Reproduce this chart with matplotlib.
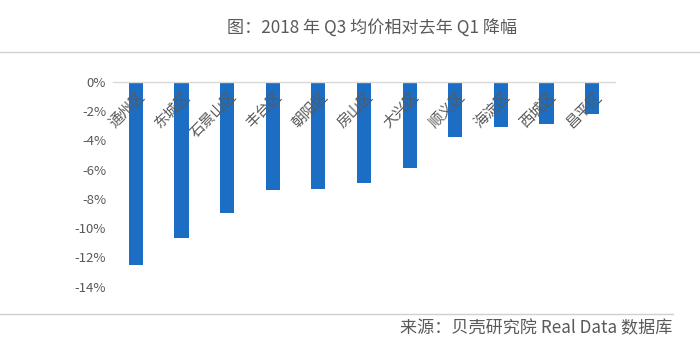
import matplotlib.pyplot as plt
from matplotlib.lines import Line2D

plt.rcParams["font.family"] = ["Noto Sans CJK SC", "DejaVu Sans"]

districts = ["通州区", "东城区", "石景山区", "丰台区", "朝阳区", "房山区",
             "大兴区", "顺义区", "海淀区", "西城区", "昌平区"]
declines = [-12.5, -10.7, -9.0, -7.4, -7.3, -6.9, -5.9, -3.8, -3.1, -2.9, -2.2]
y_ticks = [0, -2, -4, -6, -8, -10, -12, -14]

TEXT = "#595959"
BAR = "#1b6ec4"

fig = plt.figure(figsize=(7, 3.59), dpi=100)
ax = fig.add_axes([0.1614, 0.2014, 0.7171, 0.571])

x = range(len(districts))
ax.bar(x, declines, width=0.31, color=BAR, zorder=2)
ax.set_xlim(-0.5, len(districts) - 0.5)
ax.set_ylim(-14, 0)
ax.set_yticks(y_ticks)
ax.set_yticklabels([f"{v}%" for v in y_ticks], color=TEXT, fontsize=9.5)
ax.tick_params(axis="y", length=0, pad=5)
ax.set_xticks([])
for side in ["left", "right", "bottom"]:
    ax.spines[side].set_visible(False)
ax.spines["top"].set_color("#d9d9d9")
ax.spines["top"].set_linewidth(1)

for i, name in enumerate(districts):
    ax.text(i + 0.05, -0.5, name, rotation=45, rotation_mode="anchor",
            ha="right", va="top", fontsize=10.5, color=TEXT, zorder=3)

fig.text(372 / 700, 1 - 28 / 359, "图：2018 年 Q3 均价相对去年 Q1 降幅",
         ha="center", va="center", fontsize=12.3, color=TEXT)
fig.text(672 / 700, 1 - 328 / 359, "来源：贝壳研究院 Real Data 数据库",
         ha="right", va="center", fontsize=12.3, color=TEXT)

fig.add_artist(Line2D([0, 1], [1 - 52 / 359] * 2, color="#d0d0d0", lw=1))
fig.add_artist(Line2D([0, 673 / 700], [1 - 314 / 359] * 2, color="#d0d0d0", lw=1))

fig.savefig("out.png", dpi=100)
